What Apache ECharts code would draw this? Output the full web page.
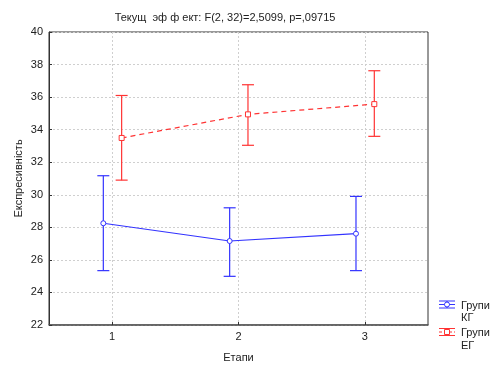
<!DOCTYPE html>
<html><head><meta charset="utf-8">
<script src="https://cdn.jsdelivr.net/npm/echarts@6/dist/echarts.min.js"></script>
<style>html,body{margin:0;padding:0;background:#fff}#c{width:492px;height:365px}</style>
</head><body><div id="c"></div>
<script>
const stages = [1, 2, 3];
const kgMean  = [28.25, 27.16, 27.61];
const kgUpper = [31.17, 29.20, 29.90];
const kgLower = [25.34, 24.99, 25.34];
const egMean  = [33.49, 34.94, 35.57];
const egUpper = [36.10, 36.76, 37.62];
const egLower = [30.90, 33.04, 33.59];
const yTicks = [22, 24, 26, 28, 30, 32, 34, 36, 38, 40];
const titleText = 'Текущ  эф ф ект: F(2, 32)=2,5099, p=,09715';
const yName = 'Експресивність';
const xName = 'Етапи';
const legendNames = ['Групи\nКГ', 'Групи\nЕГ'];

const BLUE = '#3333ff', RED = '#ff3333';
const FONT = '"Liberation Sans", Arial, sans-serif';
const KG_OFF = -0.07, EG_OFF = 0.075;

function errSeries(lower, upper, off, color) {
  return {
    type: 'custom', z: 2,
    data: stages.map((s, i) => [s + off, lower[i], upper[i]]),
    renderItem: function (params, api) {
      const lo = api.coord([api.value(0), api.value(1)]);
      const hi = api.coord([api.value(0), api.value(2)]);
      const w = 6;
      const st = { stroke: color, lineWidth: 1.2 };
      return { type: 'group', children: [
        { type: 'line', shape: { x1: lo[0], y1: lo[1], x2: hi[0], y2: hi[1] }, style: st },
        { type: 'line', shape: { x1: lo[0]-w, y1: lo[1], x2: lo[0]+w, y2: lo[1] }, style: st },
        { type: 'line', shape: { x1: hi[0]-w, y1: hi[1], x2: hi[0]+w, y2: hi[1] }, style: st }
      ]};
    }
  };
}

function legendItem(y, color, dashed, symbol, label) {
  const x1 = 439, x2 = 455, xc = 447;
  const st = { stroke: color, lineWidth: 1 };
  const children = [
    { type: 'line', shape: { x1: x1, y1: y-3.5, x2: x2, y2: y-3.5 }, style: st },
    { type: 'line', shape: { x1: x1, y1: y+3.5, x2: x2, y2: y+3.5 }, style: st },
    { type: 'line', shape: { x1: x1, y1: y, x2: x2, y2: y }, style: { stroke: color, lineWidth: 1, lineDash: dashed ? [3, 2] : null } },
    { type: 'line', shape: { x1: xc, y1: y-3.5, x2: xc, y2: y+3.5 }, style: st },
    symbol === 'circle'
      ? { type: 'circle', shape: { cx: xc, cy: y, r: 2.5 }, style: { fill: '#fff', stroke: color, lineWidth: 1 } }
      : { type: 'rect', shape: { x: xc-2.5, y: y-2.5, width: 5, height: 5 }, style: { fill: '#fff', stroke: color, lineWidth: 1 } },
    { type: 'text', x: 461, y: y - 5, style: { text: label, fill: '#222', font: '11px ' + FONT, lineHeight: 12.5, verticalAlign: 'top' } }
  ];
  return { type: 'group', children: children };
}

const chart = echarts.init(document.getElementById('c'), null, { renderer: 'canvas' });
chart.setOption({
  animation: false,
  backgroundColor: '#fff',
  textStyle: { fontFamily: FONT },
  title: {
    text: titleText, left: 220, top: 7, textAlign: 'center',
    textStyle: { fontSize: 11, fontWeight: 'normal', color: '#222', fontFamily: FONT }
  },
  grid: { left: 49, right: 64, top: 32, bottom: 40, show: true, borderColor: '#333', borderWidth: 1, backgroundColor: 'transparent', containLabel: false, outerBoundsMode: 'none' },
  xAxis: {
    type: 'value', min: 0.5, max: 3.5,
    name: xName, nameLocation: 'middle', nameGap: 27, nameMoveOverlap: false,
    nameTextStyle: { fontSize: 11, color: '#222', fontFamily: FONT },
    axisLine: { show: true, lineStyle: { color: '#555', width: 1.5 } },
    axisTick: { show: true, inside: true, length: 3, customValues: stages, lineStyle: { color: '#333' } },
    axisLabel: { customValues: stages, fontSize: 11, color: '#222', margin: 6, fontFamily: FONT },
    splitLine: { show: true, lineStyle: { color: '#cfcfcf', type: [2, 2] } }
  },
  yAxis: {
    type: 'value', min: yTicks[0], max: yTicks[yTicks.length-1], interval: 2,
    name: yName, nameLocation: 'middle', nameGap: 25, nameMoveOverlap: false,
    nameTextStyle: { fontSize: 11, color: '#222', fontFamily: FONT },
    axisLine: { show: true, lineStyle: { color: '#333' } },
    axisTick: { show: true, inside: true, length: 3, lineStyle: { color: '#333' } },
    axisLabel: { fontSize: 11, color: '#222', margin: 6, fontFamily: FONT },
    splitLine: { show: true, lineStyle: { color: '#cfcfcf', type: [2, 2] } }
  },
  series: [
    errSeries(kgLower, kgUpper, KG_OFF, BLUE),
    errSeries(egLower, egUpper, EG_OFF, RED),
    {
      type: 'line', z: 3, data: stages.map((s, i) => [s + KG_OFF, kgMean[i]]),
      symbol: 'circle', symbolSize: 5,
      lineStyle: { color: BLUE, width: 1.2 },
      itemStyle: { color: '#fff', borderColor: BLUE, borderWidth: 1 }
    },
    {
      type: 'line', z: 3, data: stages.map((s, i) => [s + EG_OFF, egMean[i]]),
      symbol: 'rect', symbolSize: 5,
      lineStyle: { color: RED, width: 1.2, type: [5, 4] },
      itemStyle: { color: '#fff', borderColor: RED, borderWidth: 1 }
    }
  ],
  graphic: [
    legendItem(304.5, BLUE, false, 'circle', legendNames[0]),
    legendItem(332, RED, true, 'rect', legendNames[1])
  ]
});
</script>
</body></html>
